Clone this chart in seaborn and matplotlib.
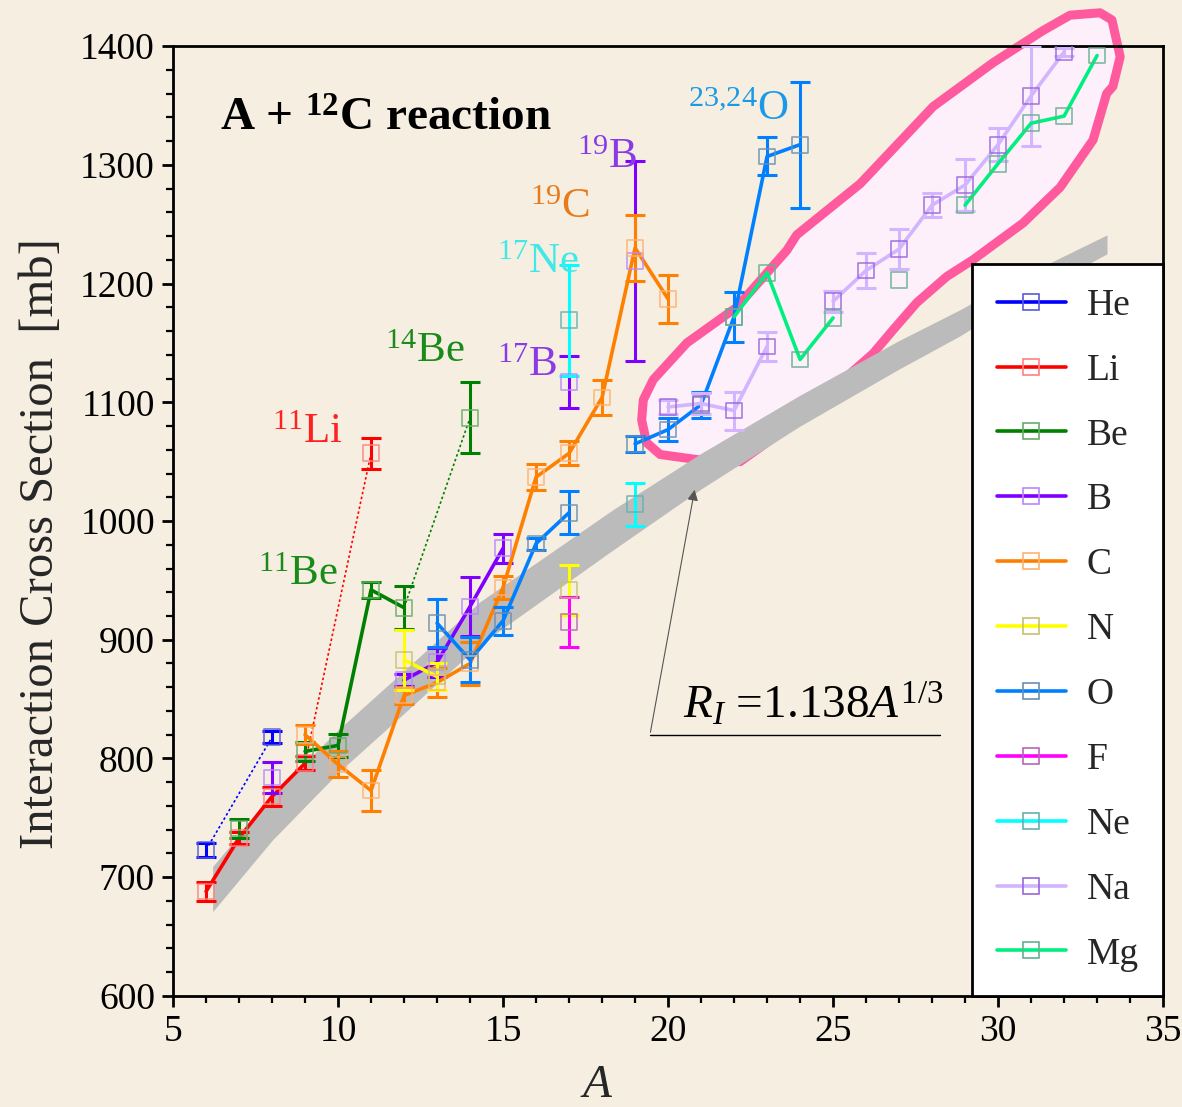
import numpy as np
import pandas as pd
import matplotlib
matplotlib.use("Agg")
import matplotlib.pyplot as plt
import seaborn as sns
from matplotlib.lines import Line2D
from matplotlib.patches import Polygon
from matplotlib.ticker import MultipleLocator

# ---------------- data ----------------
elements = ["He", "Li", "Be", "B", "C", "N", "O", "F", "Ne", "Na", "Mg"]

he_A = [6, 8];            he_sig = [723, 818];                 he_err = [6, 5];           he_seg = [0, 0]
li_A = [6, 7, 8, 9, 11];  li_sig = [688, 733, 768, 796, 1057]; li_err = [8, 5, 8, 6, 13]; li_seg = [1, 1, 1, 1, 0]
be_A = [7, 9, 10, 11, 12, 14]
be_sig = [741, 806, 811, 942, 927, 1087]
be_err = [8, 8, 10, 7, 18, 30]
be_seg = [0, 1, 1, 1, 1, 0]
b_A = [8, 12, 13, 14, 15, 17, 19]
b_sig = [784, 866, 881, 928, 977, 1117, 1219]
b_err = [13, 5, 12, 25, 12, 22, 84]
b_seg = [0, 1, 1, 1, 1, 0, 0]
c_A = [9, 10, 11, 12, 13, 14, 15, 16, 17, 18, 19, 20]
c_sig = [820, 795, 773, 853, 864, 880, 944, 1037, 1057, 1104, 1230, 1187]
c_err = [8, 11, 17, 7, 12, 18, 10, 11, 10, 15, 28, 20]
c_seg = [1] * 12
n_A = [12, 13, 17];       n_sig = [883, 869, 942];             n_err = [25, 11, 21];       n_seg = [1, 1, 0]
o_A = [13, 14, 15, 16, 17, 19, 20, 21, 22, 23, 24]
o_sig = [914, 883, 916, 981, 1007, 1065, 1077, 1098, 1172, 1307, 1317]
o_err = [20, 19, 12, 5, 18, 7, 10, 11, 21, 16, 53]
o_seg = [1, 1, 1, 1, 1, 2, 2, 2, 2, 2, 2]
f_A = [17];               f_sig = [915];                       f_err = [21];               f_seg = [0]
ne_A = [17, 19];          ne_sig = [1169, 1014];               ne_err = [47, 18];          ne_seg = [0, 0]
na_A = [20, 21, 22, 23, 25, 26, 27, 28, 29, 30, 31, 32]
na_sig = [1096, 1099, 1093, 1147, 1185, 1211, 1229, 1266, 1283, 1317, 1358, 1395]
na_err = [6, 9, 16, 12, 9, 15, 17, 10, 22, 14, 42, 3]
na_seg = [1, 1, 1, 1, 2, 2, 2, 2, 2, 2, 2, 2]
mg_A = [22, 23, 24, 25, 27, 29, 30, 31, 32, 33]
mg_sig = [1172, 1209, 1136, 1171, 1203, 1266, 1301, 1335, 1341, 1392]
mg_err = [0, 0, 0, 0, 0, 0, 0, 0, 0, 0]
mg_seg = [1, 1, 1, 1, 0, 2, 2, 2, 2, 2]

# halo-nucleus dotted links (element, from A, to A)
halo_links = [("He", 6, 8), ("Li", 9, 11), ("Be", 12, 14)]

# R_I = 1.138 A^(1/3) band
band_A = [6.2, 8, 10, 12, 14.3, 18.3, 21, 24, 27, 28.85, 30, 33.3]
band_mid = [690, 750, 806, 856, 914, 992, 1042, 1093, 1140, 1167, 1186, 1233]
band_half = [19, 19, 18, 18, 18, 17, 15, 13, 12, 11, 10, 8]

# highlight region outline (A, mb)
blob_A = [19.20, 19.25, 19.55, 20.57, 22.08, 23.60, 23.76, 23.90, 25.82, 28.03, 29.85, 31.36,
          32.18, 33.09, 33.45, 33.70, 33.48, 33.29, 32.88, 31.88, 30.76, 29.24, 28.45, 27.54,
          26.82, 26.21, 24.61, 23.09, 22.18, 21.07, 19.76, 19.35]
blob_sig = [1085, 1102, 1119, 1150, 1180, 1228, 1235, 1241, 1284, 1349, 1386, 1413,
            1426, 1428, 1422, 1391, 1366, 1360, 1321, 1281, 1251, 1220, 1206, 1184,
            1161, 1141, 1102, 1068, 1050, 1051, 1056, 1066]

series = {
    "He": (he_A, he_sig, he_err, he_seg), "Li": (li_A, li_sig, li_err, li_seg),
    "Be": (be_A, be_sig, be_err, be_seg), "B": (b_A, b_sig, b_err, b_seg),
    "C": (c_A, c_sig, c_err, c_seg), "N": (n_A, n_sig, n_err, n_seg),
    "O": (o_A, o_sig, o_err, o_seg), "F": (f_A, f_sig, f_err, f_seg),
    "Ne": (ne_A, ne_sig, ne_err, ne_seg), "Na": (na_A, na_sig, na_err, na_seg),
    "Mg": (mg_A, mg_sig, mg_err, mg_seg),
}

line_colors = {"He": "#0000ff", "Li": "#ff0000", "Be": "#008000", "B": "#8000ff",
               "C": "#ff8000", "N": "#ffff00", "O": "#0080ff", "F": "#ff00ff",
               "Ne": "#00ffff", "Na": "#d2b4ff", "Mg": "#00f080"}
marker_colors = {"He": "#5a5ad8", "Li": "#ff8080", "Be": "#6aaa6a", "B": "#b888ff",
                 "C": "#ffb070", "N": "#c8c070", "O": "#6a8fb0", "F": "#b866b8",
                 "Ne": "#66b0b0", "Na": "#9966dd", "Mg": "#66b090"}

rows = []
for el in elements:
    A, s, e, g = series[el]
    for a, v, er, sg in zip(A, s, e, g):
        rows.append(dict(element=el, A=a, sig=v, err=er, seg=sg))
df = pd.DataFrame(rows)

# ---------------- style ----------------
sns.set_style("ticks")
bg = "#f6efe1"
plt.rcParams.update({
    "font.family": ["Liberation Serif", "DejaVu Serif"],
    "mathtext.fontset": "custom",
    "mathtext.rm": "Liberation Serif",
    "mathtext.it": "Liberation Serif:italic",
    "mathtext.bf": "Liberation Serif:bold",
    "axes.edgecolor": "black",
    "xtick.color": "black", "ytick.color": "black",
})

fig = plt.figure(figsize=(11.82, 11.07), dpi=100, facecolor=bg)
ax = fig.add_axes([0.1464, 0.1003, 0.8376, 0.8581], facecolor=bg)

# highlight region
blob = Polygon(np.column_stack([blob_A, blob_sig]), closed=True, facecolor="#fdf0fa",
               edgecolor="#ff5a9e", lw=6.5, joinstyle="round", clip_on=False, zorder=1)
ax.add_patch(blob)

# systematic band
bm = np.array(band_mid); bh = np.array(band_half)
ax.fill_between(band_A, bm - bh, bm + bh, color="#bbbbbb", lw=0, zorder=2)

# dotted halo links
for el, a0, a1 in halo_links:
    sub = df[(df.element == el) & (df.A.isin([a0, a1]))]
    sns.lineplot(data=sub, x="A", y="sig", estimator=None, color=line_colors[el],
                 lw=1.2, linestyle=(0, (1.5, 1.5)), ax=ax, legend=False, zorder=3)

for el in elements:
    sub = df[df.element == el]
    conn = sub[sub.seg > 0]
    if len(conn):
        sns.lineplot(data=conn, x="A", y="sig", units="seg", estimator=None,
                     color=line_colors[el], lw=2.6, ax=ax, legend=False, zorder=4)
    eb = sub[sub.err > 0]
    if len(eb):
        ax.errorbar(eb.A, eb.sig, yerr=eb.err, fmt="none", ecolor=line_colors[el],
                    elinewidth=2.2, capsize=7.5, capthick=2.2, zorder=4)
    sns.scatterplot(data=sub, x="A", y="sig", marker="s", s=130, facecolor="none",
                    edgecolor=marker_colors[el], linewidth=1.2, alpha=0.85,
                    ax=ax, legend=False, zorder=5)

# annotations
ax.text(6.42, 1329, r"A + $^{\mathbf{12}}$C reaction", fontsize=34, fontweight="bold",
        color="black", ha="left", va="baseline")
labels = [(r"$^{11}$Li", 8.0, 1066, "#ff2020"),
          (r"$^{14}$Be", 11.42, 1134, "#1a8a1a"),
          (r"$^{11}$Be", 7.58, 946, "#1a8a1a"),
          (r"$^{19}$B", 17.24, 1297, "#8a3be6"),
          (r"$^{19}$C", 15.82, 1255, "#e87a1a"),
          (r"$^{17}$Ne", 14.82, 1209, "#40e8e8"),
          (r"$^{17}$B", 14.82, 1122, "#8a3be6"),
          (r"$^{23{,}24}$O", 20.6, 1338, "#1a9ae6")]
for t, x, y, c in labels:
    ax.text(x, y, t, fontsize=31, color=c, ha="left", va="baseline", zorder=6)

ax.annotate("", xy=(20.82, 1028.6), xytext=(19.45, 819.8),
            arrowprops=dict(arrowstyle="-|>", color="#555555", lw=0.8, mutation_scale=16),
            zorder=6)
ax.plot([19.45, 28.24], [819.8, 819.8], color="black", lw=1.0, zorder=6)
ax.text(20.45, 834, r"$R_I$ =1.138$A^{1/3}$", fontsize=34, color="black",
        ha="left", va="baseline", zorder=6)

# axes
ax.set_xlim(5, 35)
ax.set_ylim(600, 1400)
ax.xaxis.set_major_locator(MultipleLocator(5))
ax.xaxis.set_minor_locator(MultipleLocator(1))
ax.yaxis.set_major_locator(MultipleLocator(100))
ax.yaxis.set_minor_locator(MultipleLocator(20))
ax.tick_params(which="major", direction="out", length=8, width=2, labelsize=27, pad=5)
ax.tick_params(which="minor", direction="out", length=5, width=1.6)
for sp in ax.spines.values():
    sp.set_linewidth(2)
    sp.set_visible(True)
ax.set_xlabel("A", fontsize=34, fontstyle="italic")
ax.xaxis.set_label_coords(0.428, -0.072)
ax.set_ylabel("Interaction Cross Section  [mb]", fontsize=35)
ax.yaxis.set_label_coords(-0.111, 0.4764)

handles = [Line2D([0], [0], color=line_colors[el], lw=2.6, marker="s", markersize=11,
                  markerfacecolor="none", markeredgecolor=marker_colors[el],
                  markeredgewidth=1.2) for el in elements]
leg = ax.legend(handles, elements, loc="lower right", bbox_to_anchor=(1.0, 0.0),
                borderaxespad=0, fontsize=27, frameon=True, fancybox=False,
                edgecolor="black", facecolor="white", framealpha=1,
                handlelength=1.85, handletextpad=0.55, labelspacing=0.81, borderpad=0.65)
leg.get_frame().set_linewidth(2)
leg.set_zorder(10)

fig.savefig("out.png", dpi=100, facecolor=bg)
